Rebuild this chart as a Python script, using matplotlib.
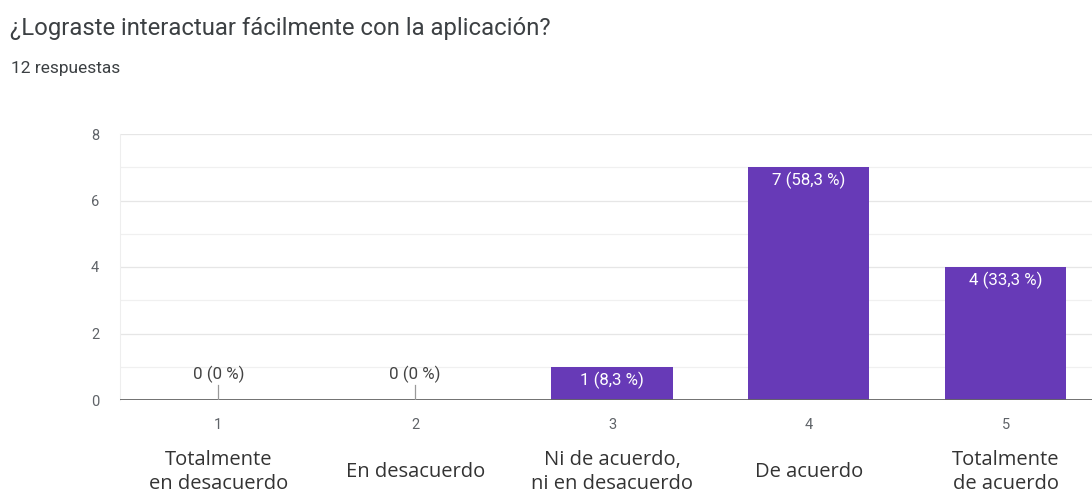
import matplotlib.pyplot as plt
from matplotlib import transforms

# survey answers
question = "¿Lograste interactuar fácilmente con la aplicación?"
n_answers = "12 respuestas"
scale = [1, 2, 3, 4, 5]
answer_labels = ["Totalmente\nen desacuerdo", "En desacuerdo",
                 "Ni de acuerdo,\nni en desacuerdo", "De acuerdo",
                 "Totalmente\nde acuerdo"]
counts = [0, 0, 1, 7, 4]
percents = ["0 %", "0 %", "8,3 %", "58,3 %", "33,3 %"]

PURPLE = "#673ab7"
GRAY = "#5f6368"

fig = plt.figure(figsize=(10.92, 4.95), dpi=100)
fig.patch.set_facecolor("white")

fig.text(10 / 1092, 1 - 29 / 495, question, fontsize=17.2, family="Roboto",
         color="#3c4043", va="center", ha="left")
fig.text(11 / 1092, 1 - 68 / 495, n_answers, fontsize=12.5, family="Roboto",
         color="#3c4043", va="center", ha="left")

# plot area runs past the right edge of the figure
ax = fig.add_axes([120 / 1092, 95 / 495, 984 / 1092, 266 / 495])
ax.set_xlim(0.5, 5.5)
ax.set_ylim(0, 8)

for y in range(1, 9):
    ax.axhline(y, color="#f0f0f0" if y % 2 else "#e6e6e6", lw=0.9, zorder=0)

ax.bar(scale, counts, width=0.615, color=PURPLE, zorder=2)
ax.axhline(0, color="#666666", lw=1.3, zorder=3)

for x, c, p in zip(scale, counts, percents):
    txt = f"{c} ({p})"
    if c == 0:
        ax.plot([x, x], [0, 0.45], color="#999999", lw=0.9, zorder=3)
        ax.annotate(txt, (x, 0), xytext=(0, 18.5), textcoords="offset points",
                    ha="center", va="center", fontsize=12.2, family="Roboto",
                    color="#444444")
    else:
        ax.annotate(txt, (x, c), xytext=(0, -9.5), textcoords="offset points",
                    ha="center", va="center", fontsize=12.2, family="Roboto",
                    color="white", zorder=4)

ax.set_yticks([0, 2, 4, 6, 8])
ax.set_xticks(scale)
ax.set_xticklabels([str(s) for s in scale])
ax.tick_params(axis="both", length=0, labelsize=10.5, colors=GRAY)
ax.tick_params(axis="x", pad=13)
ax.tick_params(axis="y", pad=15)
for lab in ax.get_xticklabels() + ax.get_yticklabels():
    lab.set_family("Roboto")

for s in ["top", "right", "bottom"]:
    ax.spines[s].set_visible(False)
ax.spines["left"].set_color("#eeeeee")

# answer text under each scale number
trans = transforms.blended_transform_factory(ax.transData, ax.transAxes)
for x, lab in zip(scale, answer_labels):
    ax.annotate(lab, (x, 0), xycoords=trans, xytext=(0, -52),
                textcoords="offset points", ha="center", va="center",
                fontsize=14.5, family="Open Sans", color="#333333",
                linespacing=1.25, annotation_clip=False)

fig.savefig("out.png", dpi=100, facecolor="white")
